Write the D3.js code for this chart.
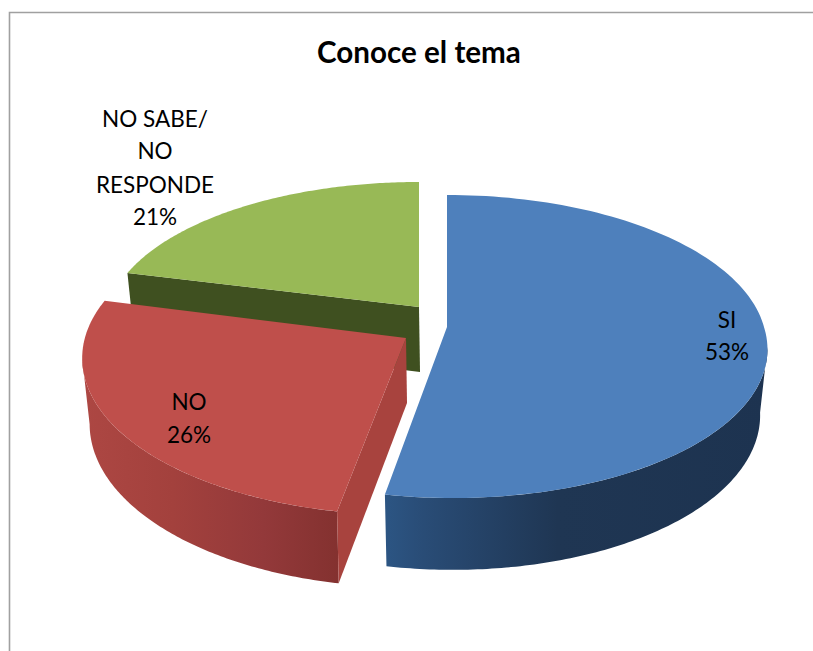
<!DOCTYPE html>
<html><head><meta charset="utf-8">
<script src="https://cdn.jsdelivr.net/npm/d3@7"></script>
<style>html,body{margin:0;padding:0;background:#fff}svg{display:block}</style>
</head><body><svg id="c" width="813" height="651"></svg>
<script>
const categories = ["SI", "NO", "NO SABE/ NO RESPONDE"];
const values = [53, 26, 21];
const title = "Conoce el tema";

const svg = d3.select("#c");
const W = 813, H = 651;
svg.append("rect").attr("width", W).attr("height", H).attr("fill", "#fff");

const pie = d3.pie().sort(null).value(d => d);
const arcs = pie(values);

// Perspective view of the disc
const rx = 317, ry = 149, k = 0.1287, depth = 65;
const looks = [
  {cx: 447, cy: 327, sx: 1, sy: 1, shear: 6, top: "#4e80bc", edge: ["#2c5583", "#294c76", "#1f3653", "#1d3350"], face: "#1f3653"},
  {cx: 406, cy: 338, sx: 1.013, sy: 1.035, shear: 0, top: "#bf4f4b", edge: ["#ad4743", "#a3413d", "#93393a", "#83312f"], face: "#a8433e"},
  {cx: 419, cy: 307, sx: 0.98, sy: 0.947, shear: 0, top: "#98b956", edge: ["#3f5020", "#3f5020", "#3f5020", "#3f5020"], face: "#3f5020"}
];
function project(theta, h, L) {
  const u = Math.sin(theta), v = -Math.cos(theta), s = 1 / (1 - k * v);
  return [
    L.cx + L.shear * Math.max(v, 0) + rx * L.sx * (1 - 0.023 * h) * u * s,
    L.cy + depth * h + ry * L.sy * (1 + 0.04 * h) * v * s
  ];
}
const apex = (h, L) => [L.cx + h, L.cy + depth * h];
const line = d3.line();
const angles = (a, b) => d3.range(0, 121).map(i => a + (b - a) * i / 120);

const defs = svg.append("defs");
const xBounds = [[386, 768], [82, 341]];
xBounds.forEach((b, i) => {
  const g = defs.append("linearGradient").attr("id", "w" + i)
    .attr("gradientUnits", "userSpaceOnUse")
    .attr("x1", b[0]).attr("x2", b[1]).attr("y1", 0).attr("y2", 0);
  const stops = i ? [0, .35, .7, 1] : [0, .1, .45, 1];
  looks[i].edge.forEach((c, j) => g.append("stop").attr("offset", stops[j]).attr("stop-color", c));
});

// Painter's order: back slice first
const silhouette = Math.PI * 0.5417; // where the disc's outline turns from back to front
[2, 1, 0].forEach(i => {
  const a = arcs[i], L = looks[i];
  const g = svg.append("g");
  if (i < 2) {
    const t0 = Math.max(a.startAngle, silhouette);
    const t1 = Math.min(a.endAngle, 2 * Math.PI - silhouette);
    const th = angles(t0, t1);
    const wall = th.map(t => project(t, 0, L)).concat(th.slice().reverse().map(t => project(t, 1, L)));
    g.append("path").attr("d", line(wall) + "Z").attr("fill", `url(#w${i})`);
  }
  // flat cut face looking at the viewer
  if (i === 1) {
    g.append("path").attr("d", line([apex(0, L), project(a.startAngle, 0, L), project(a.startAngle, 1, L), apex(1, L)]) + "Z").attr("fill", L.face);
  }
  if (i === 2) {
    g.append("path").attr("d", line([apex(0, L), project(a.endAngle, 0, L), project(a.endAngle, 1, L), apex(1, L)]) + "Z").attr("fill", "none");
    g.append("path").attr("d", line([apex(0, L), project(a.startAngle, 0, L), project(a.startAngle, 1, L), apex(1, L)]) + "Z").attr("fill", L.face);
  }
  const topPts = [apex(0, L)].concat(angles(a.startAngle, a.endAngle).map(t => project(t, 0, L)));
  g.append("path").attr("d", line(topPts) + "Z").attr("fill", L.top);
});

// Frame
svg.append("path").attr("d", "M9.5 651V12.5H813").attr("fill", "none").attr("stroke", "#a0a0a0").attr("stroke-width", 1.6);

// Text
const font = "Lato, Carlito, sans-serif";
svg.append("text").text(title).attr("x", 419).attr("y", 63).attr("text-anchor", "middle")
  .attr("font-family", font).attr("font-weight", 700).attr("font-size", 29.6).attr("fill", "#000");

const labelLines = [
  {x: 727, y: [328, 360], t: [categories[0], values[0] + "%"]},
  {x: 189, y: [410, 443], t: [categories[1], values[1] + "%"]},
  {x: 155, y: [127, 159, 193, 225], t: ["NO SABE/", "NO", "RESPONDE", values[2] + "%"]}
];
labelLines.forEach(l => l.t.forEach((s, j) => {
  svg.append("text").text(s).attr("x", l.x).attr("y", l.y[j]).attr("text-anchor", "middle")
    .attr("font-family", font).attr("font-size", 22.5).attr("fill", "#000");
}));
</script></body></html>
